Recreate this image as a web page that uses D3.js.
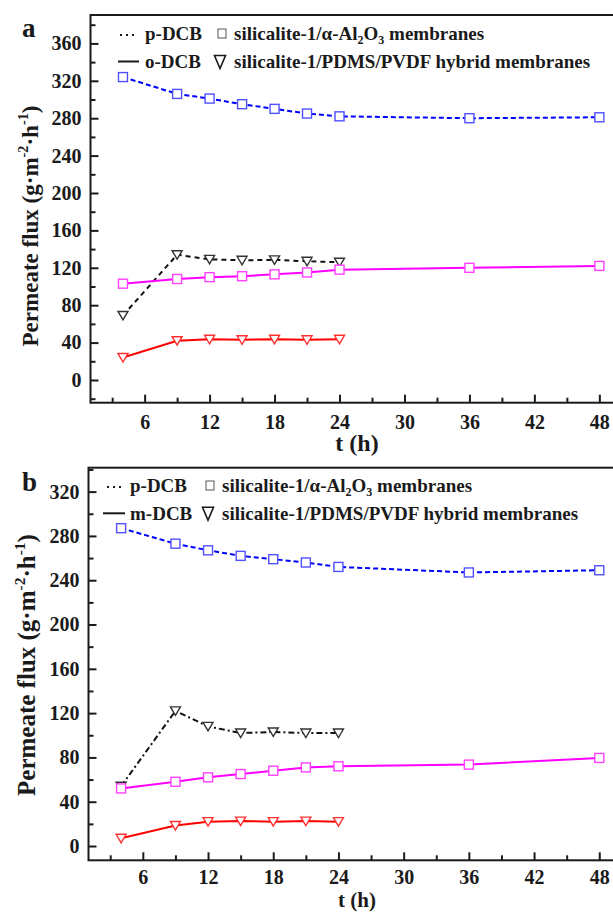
<!DOCTYPE html>
<html>
<head>
<meta charset="utf-8">
<script src="https://cdn.jsdelivr.net/npm/d3@7"></script>
<style>
  body { margin: 0; background: #fff; }
  svg { display: block; }
  svg text { font-family: "Liberation Serif", "DejaVu Serif", serif; font-weight: bold; fill: #1a1a1a; }
</style>
</head>
<body>
<svg id="chart" width="613" height="913" font-family="Liberation Serif, DejaVu Serif, serif"></svg>
<script>
// Sampling times (h)
const hours = [4, 9, 12, 15, 18, 21, 24, 36, 48];
const hybridHours = [4, 9, 12, 15, 18, 21, 24];

// Panel a: p-DCB / o-DCB permeate flux (g·m-2·h-1)
const pDcbAl2O3A = [324, 306, 301, 295, 290, 285, 282, 280, 281];
const oDcbAl2O3A = [103, 108, 110, 111, 113, 115, 118, 120, 122];
const pDcbHybridA = [69, 134, 129, 128, 128.5, 127, 126];
const oDcbHybridA = [24, 42, 43.5, 43, 43.5, 43, 43.5];

// Panel b: p-DCB / m-DCB permeate flux (g·m-2·h-1)
const pDcbAl2O3B = [287, 273, 267, 262, 259, 256, 252, 247, 249];
const mDcbAl2O3B = [52, 58, 62, 65, 68, 71, 72, 73.5, 79.5];
const pDcbHybridB = [54, 122, 108, 102, 103, 102, 102];
const mDcbHybridB = [7, 18.5, 22, 22.5, 22, 22.5, 22];

// Tick values
const xTicks = [6, 12, 18, 24, 30, 36, 42, 48];
const xMinorTicks = [3, 9, 15, 21, 27, 33, 39, 45];
const yTicksA = [0, 40, 80, 120, 160, 200, 240, 280, 320, 360];
const yMinorA = [-20, 20, 60, 100, 140, 180, 220, 260, 300, 340, 380];
const yTicksB = [0, 40, 80, 120, 160, 200, 240, 280, 320];
const yMinorB = [20, 60, 100, 140, 180, 220, 260, 300, 340];

const svg = d3.select("#chart");
const INK = "#1a1a1a";
const FONT = "Liberation Serif, DejaVu Serif, serif";

const panels = [
  {
    letter: "a", letterPos: [22, 37],
    left: 90.5, right: 621, top: 15, bottom: 402.7,
    xDomain: [1, 50], yDomain: [-24.3, 390.4],
    yTicks: yTicksA, yMinor: yMinorA, xPad: 12,
    yLabelX: 38, yLabelY: 226, yLabelSize: 23,
    xLabelY: 451, xLabelSize: 24,
    second: "o-DCB",
    series: [
      { y: pDcbAl2O3A, t: hours, color: "#0000ff", mark: "#5050ff", dash: "5,3", shape: "square" },
      { y: pDcbHybridA, t: hybridHours, color: "#111", mark: "#333", dash: "5,4", shape: "tri" },
      { y: oDcbAl2O3A, t: hours, color: "#ff00ff", mark: "#ff40ff", dash: null, shape: "square" },
      { y: oDcbHybridA, t: hybridHours, color: "#ff0000", mark: "#ff3030", dash: null, shape: "tri" }
    ],
    legend: { y1: 33, y2: 61.5, dotsX: [120, 134], lineX: [118, 139], textX: 145, symX: 222, symTextX: 234 }
  },
  {
    letter: "b", letterPos: [22, 491],
    left: 88.5, right: 621, top: 467.7, bottom: 860.3,
    xDomain: [1, 50], yDomain: [-12.9, 341.6],
    yTicks: yTicksB, yMinor: yMinorB, xPad: 9.5,
    yLabelX: 35, yLabelY: 665, yLabelSize: 25,
    xLabelY: 907, xLabelSize: 21,
    second: "m-DCB",
    series: [
      { y: pDcbAl2O3B, t: hours, color: "#0000ff", mark: "#5050ff", dash: "5,3", shape: "square" },
      { y: pDcbHybridB, t: hybridHours, color: "#111", mark: "#333", dash: "6,3,2,3", shape: "tri" },
      { y: mDcbAl2O3B, t: hours, color: "#ff00ff", mark: "#ff40ff", dash: null, shape: "square" },
      { y: mDcbHybridB, t: hybridHours, color: "#ff0000", mark: "#ff3030", dash: null, shape: "tri" }
    ],
    legend: { y1: 485, y2: 513.3, dotsX: [107, 124], lineX: [103, 125], textX: 130, symX: 210, symTextX: 222 }
  }
];

const triPath = "M-5,-4L5,-4L0,4.5Z";

panels.forEach(p => {
  const x = d3.scaleLinear().domain(p.xDomain).range([p.left, p.right]);
  const y = d3.scaleLinear().domain(p.yDomain).range([p.bottom, p.top]);
  const g = svg.append("g");

  // Axes with inward ticks
  const yAxis = g.append("g").attr("transform", `translate(${p.left},0)`)
    .call(d3.axisLeft(y).tickValues(p.yTicks).tickSize(-8).tickPadding(9).tickSizeOuter(0));
  const yMinorAxis = g.append("g").attr("transform", `translate(${p.left},0)`)
    .call(d3.axisLeft(y).tickValues(p.yMinor).tickSize(-5).tickFormat("").tickSizeOuter(0));
  const xAxis = g.append("g").attr("transform", `translate(0,${p.bottom})`)
    .call(d3.axisBottom(x).tickValues(xTicks).tickSize(-8).tickPadding(p.xPad).tickSizeOuter(0));
  const xMinorAxis = g.append("g").attr("transform", `translate(0,${p.bottom})`)
    .call(d3.axisBottom(x).tickValues(xMinorTicks).tickSize(-5).tickFormat("").tickSizeOuter(0));
  [yAxis, yMinorAxis, xAxis, xMinorAxis].forEach(a => {
    a.attr("font-family", FONT);
    a.select(".domain").remove();
    a.selectAll(".tick line").attr("stroke", INK).attr("stroke-width", 2);
    a.selectAll(".tick text").attr("font-size", 20).attr("font-family", FONT)
      .attr("font-weight", "bold").attr("fill", INK);
  });

  // Frame
  g.append("rect")
    .attr("x", p.left).attr("y", p.top)
    .attr("width", p.right - p.left).attr("height", p.bottom - p.top)
    .attr("fill", "none").attr("stroke", INK).attr("stroke-width", 2);

  // Series
  p.series.forEach(s => {
    const pts = s.t.map((t, i) => [t, s.y[i]]);
    g.append("path")
      .attr("d", d3.line().x(d => x(d[0])).y(d => y(d[1]))(pts))
      .attr("fill", "none").attr("stroke", s.color).attr("stroke-width", 2)
      .attr("stroke-dasharray", s.dash);
    const m = g.append("g").selectAll("g").data(pts).join("g")
      .attr("transform", d => `translate(${x(d[0])},${y(d[1])})`);
    if (s.shape === "square") {
      m.append("rect").attr("x", -4.5).attr("y", -4.5).attr("width", 9).attr("height", 9)
        .attr("fill", "#fff").attr("stroke", s.mark).attr("stroke-width", 1.4);
    } else {
      m.append("path").attr("d", triPath)
        .attr("fill", "#fff").attr("stroke", s.mark).attr("stroke-width", 1.4);
    }
  });

  // Legend
  const L = p.legend;
  const txt = (xx, yy, size) => g.append("text").attr("x", xx).attr("y", yy)
    .attr("font-size", size).attr("font-family", FONT).attr("font-weight", "bold").attr("fill", INK);
  g.append("line").attr("x1", L.dotsX[0]).attr("x2", L.dotsX[1]).attr("y1", L.y1 + 2).attr("y2", L.y1 + 2)
    .attr("stroke", INK).attr("stroke-width", 2).attr("stroke-dasharray", "2,4");
  txt(L.textX, L.y1 + 6.5, 19).text("p-DCB");
  g.append("line").attr("x1", L.lineX[0]).attr("x2", L.lineX[1]).attr("y1", L.y2).attr("y2", L.y2)
    .attr("stroke", INK).attr("stroke-width", 2);
  txt(L.textX, L.y2 + 6.5, 19).text(p.second);

  g.append("rect").attr("x", L.symX - 4).attr("y", L.y1 - 4).attr("width", 8).attr("height", 9)
    .attr("fill", "none").attr("stroke", "#555").attr("stroke-width", 1);
  const t1 = txt(L.symTextX, L.y1 + 6.5, 19);
  t1.append("tspan").text("silicalite-1/α-Al");
  t1.append("tspan").attr("font-size", 12).attr("dy", 4).text("2");
  t1.append("tspan").attr("dy", -4).text("O");
  t1.append("tspan").attr("font-size", 12).attr("dy", 4).text("3");
  t1.append("tspan").attr("dy", -4).text(" membranes");

  g.append("path").attr("d", "M-5.5,-6L5.5,-6L0,7Z")
    .attr("transform", `translate(${L.symX - 2},${L.y2})`)
    .attr("fill", "none").attr("stroke", INK).attr("stroke-width", 1.6);
  txt(L.symTextX, L.y2 + 6.5, 19).text("silicalite-1/PDMS/PVDF hybrid membranes");

  // Panel letter
  txt(p.letterPos[0], p.letterPos[1], 27).text(p.letter);

  // Axis titles
  txt(357, p.xLabelY, p.xLabelSize).attr("text-anchor", "middle").text("t (h)");
  const yl = g.append("text")
    .attr("transform", `translate(${p.yLabelX},${p.yLabelY}) rotate(-90)`)
    .attr("text-anchor", "middle").attr("font-size", p.yLabelSize)
    .attr("font-family", FONT).attr("font-weight", "bold").attr("fill", INK);
  yl.append("tspan").text("Permeate flux (g·m");
  yl.append("tspan").attr("font-size", p.yLabelSize * 0.62).attr("dy", -p.yLabelSize * 0.42).text("-2");
  yl.append("tspan").attr("dy", p.yLabelSize * 0.42).text("·h");
  yl.append("tspan").attr("font-size", p.yLabelSize * 0.62).attr("dy", -p.yLabelSize * 0.42).text("-1");
  yl.append("tspan").attr("dy", p.yLabelSize * 0.42).text(")");
});
</script>
</body>
</html>
